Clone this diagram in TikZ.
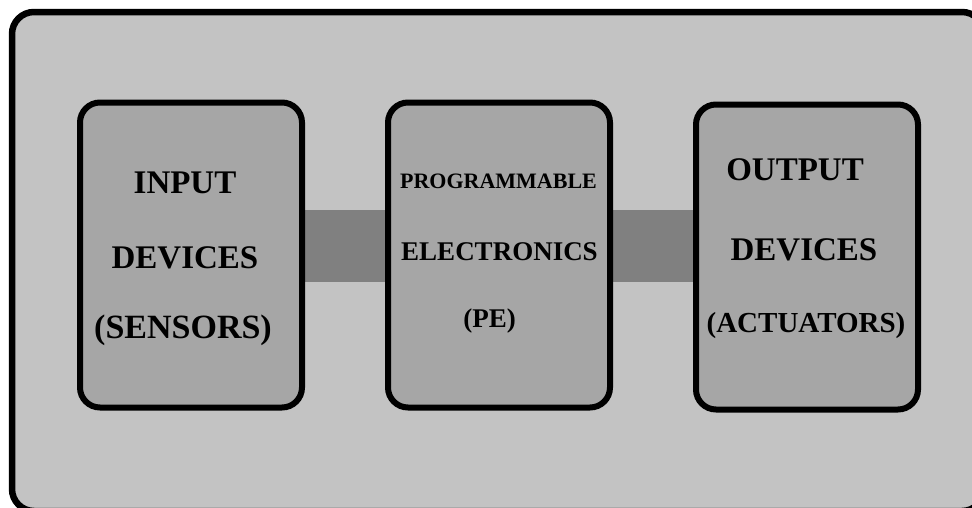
\documentclass[tikz,border=0pt]{standalone}
\usepackage{fontspec}
\setmainfont{Liberation Serif}
\usetikzlibrary{backgrounds}
\definecolor{frameGray}{RGB}{195,195,195}
\definecolor{boxGray}{RGB}{166,166,166}
\definecolor{busGray}{RGB}{128,128,128}

\begin{document}
\begin{tikzpicture}[x=1pt,y=-1pt,
  frame/.style={draw=black,line width=6.5pt,fill=frameGray,rounded corners=22pt},
  devbox/.style={draw=black,line width=6pt,fill=boxGray,rounded corners=20pt,
    minimum width=222pt,minimum height=305pt,inner sep=0pt},
  lbl/.style={anchor=base,inner sep=0pt,font=\bfseries\fontsize{#1}{#1}\selectfont},
  bus/.style={busGray,line width=72pt}]

\useasboundingbox (0,0) rectangle (972,507);

% The three blocks
\node[devbox] (input) at (191,255) {};
\node[devbox] (pe) at (499,255) {};
\node[devbox] (output) at (807,257) {};

% Block texts, one line each
\node[lbl=33] (inputA) at (185,193) {INPUT};
\node[lbl=33] (inputB) at (185,268) {DEVICES};
\node[lbl=34] (inputC) at (183,338) {(SENSORS)};

\node[lbl=22] (peA) at (498.5,188) {PROGRAMMABLE};
\node[lbl=27] (peB) at (499.5,260) {ELECTRONICS};
\node[lbl=27] (peC) at (489.5,327) {(PE)};

\node[lbl=33] (outputA) at (795,180) {OUTPUT};
\node[lbl=33] (outputB) at (804,260) {DEVICES};
\node[lbl=29] (outputC) at (806,332) {(ACTUATORS)};

% Outer panel (cut off at the right and bottom) and the links, behind the blocks
\begin{pgfonlayer}{background}
\begin{scope}
\clip (0,0) rectangle (972,507);
\draw[frame] (12,12) rectangle (984,511);
\end{scope}
\draw[bus] ([yshift=9pt]input.east) -- ([yshift=9pt]pe.west);
\draw[bus] ([yshift=9pt]pe.east) -- ([yshift=9pt]pe.east -| output.west);
\end{pgfonlayer}

\end{tikzpicture}
\end{document}
